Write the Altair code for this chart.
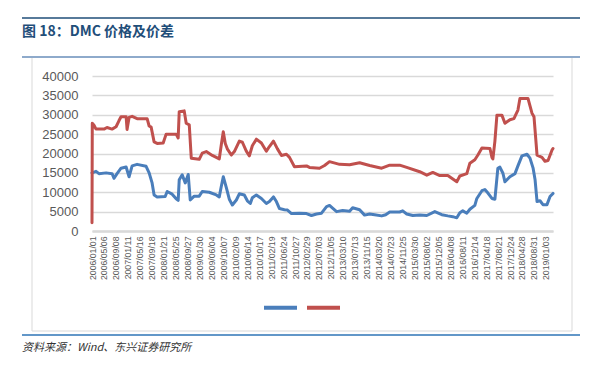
import altair as alt
import pandas as pd

# ---- data ----
price_dates = [
    "2006/01/01", "2006/01/04", "2006/01/22", "2006/02/12", "2006/05/07", "2006/06/07",
    "2006/07/30", "2006/09/10", "2006/10/11", "2006/11/01", "2006/12/24", "2007/01/03",
    "2007/01/24", "2007/02/25", "2007/04/18", "2007/08/01", "2007/08/22", "2007/09/12",
    "2007/10/13", "2007/11/14", "2008/01/16", "2008/02/16", "2008/05/31", "2008/06/21",
    "2008/07/02", "2008/08/23", "2008/09/13", "2008/10/15", "2008/11/05", "2009/01/27",
    "2009/02/28", "2009/04/11", "2009/06/13", "2009/08/25", "2009/09/15", "2009/10/06",
    "2009/10/27", "2009/11/17", "2009/12/29", "2010/01/30", "2010/03/23", "2010/04/24",
    "2010/06/04", "2010/07/06", "2010/08/06", "2010/09/17", "2010/11/09", "2010/12/31",
    "2011/02/01", "2011/03/15", "2011/04/26", "2011/06/07", "2011/07/29", "2011/08/30",
    "2011/10/21", "2012/02/24", "2012/03/26", "2012/07/09", "2012/08/31", "2012/10/22",
    "2013/02/04", "2013/05/20", "2013/09/02", "2013/12/16", "2014/04/21", "2014/07/14",
    "2014/10/26", "2015/01/08", "2015/05/24", "2015/08/06", "2015/10/08", "2015/12/20",
    "2016/03/13", "2016/06/15", "2016/07/17", "2016/09/28", "2016/10/30", "2016/12/21",
    "2017/01/22", "2017/03/05", "2017/05/28", "2017/06/18", "2017/06/28", "2017/07/19",
    "2017/08/09", "2017/09/30", "2017/11/01", "2017/12/23", "2018/02/03", "2018/03/17",
    "2018/04/07", "2018/06/30", "2018/08/11", "2018/09/01", "2018/10/03", "2018/11/24",
    "2018/12/25", "2019/01/26", "2019/03/09", "2019/03/19",
]
price_values = [
    2100, 27800, 27300, 26300, 26300, 26700,
    26300, 26900, 28500, 29500, 29500, 26200,
    29300, 29600, 29000, 29000, 27100, 26800,
    23000, 22600, 22700, 25000, 25000, 24000,
    30800, 31000, 27800, 27400, 18800, 18500,
    20100, 20500, 19500, 18600, 22200, 25600,
    22600, 21200, 19600, 20500, 23200, 22900,
    20600, 19400, 22000, 23700, 22700, 20600,
    21800, 23200, 21200, 19500, 19800, 19000,
    16600, 16800, 16400, 16200, 16900, 17900,
    17200, 17100, 17600, 16900, 16200, 17000,
    17000, 16400, 15300, 14400, 15100, 14300,
    14300, 12700, 14200, 14800, 17500, 18400,
    19600, 21400, 21300, 19000, 18600, 23200,
    29900, 29900, 27800, 28700, 29000, 31200,
    34200, 34200, 30400, 29500, 19600, 19000,
    18000, 18200, 20900, 21300,
]

spread_dates = [
    "2006/01/01", "2006/02/12", "2006/03/15", "2006/05/28", "2006/07/30", "2006/08/20",
    "2006/09/20", "2006/11/01", "2006/12/24", "2007/01/24", "2007/02/25", "2007/04/18",
    "2007/07/21", "2007/08/22", "2007/09/22", "2007/10/13", "2007/11/14", "2008/02/06",
    "2008/02/27", "2008/04/19", "2008/05/31", "2008/06/21", "2008/07/02", "2008/08/02",
    "2008/09/03", "2008/10/04", "2008/10/25", "2008/12/06", "2009/01/27", "2009/02/28",
    "2009/05/12", "2009/07/25", "2009/08/25", "2009/09/15", "2009/10/06", "2009/11/07",
    "2009/12/08", "2010/01/09", "2010/02/20", "2010/03/23", "2010/05/14", "2010/06/15",
    "2010/07/16", "2010/08/06", "2010/09/17", "2010/11/09", "2010/12/31", "2011/02/01",
    "2011/03/15", "2011/04/15", "2011/05/17", "2011/07/08", "2011/08/09", "2011/09/20",
    "2011/12/12", "2012/02/24", "2012/04/16", "2012/06/08", "2012/07/30", "2012/09/21",
    "2012/10/22", "2012/11/23", "2013/01/04", "2013/03/08", "2013/05/20", "2013/06/21",
    "2013/09/02", "2013/10/24", "2013/12/16", "2014/02/06", "2014/04/21", "2014/06/02",
    "2014/07/14", "2014/10/26", "2014/11/27", "2015/01/08", "2015/03/12", "2015/05/24",
    "2015/08/06", "2015/10/29", "2016/01/10", "2016/03/13", "2016/05/04", "2016/06/15",
    "2016/07/17", "2016/08/17", "2016/09/28", "2016/10/30", "2016/12/21", "2017/01/11",
    "2017/03/05", "2017/04/05", "2017/05/07", "2017/06/18", "2017/07/19", "2017/08/19",
    "2017/09/09", "2017/10/11", "2017/11/01", "2017/12/23", "2018/02/14", "2018/03/17",
    "2018/04/28", "2018/06/20", "2018/07/21", "2018/08/22", "2018/09/12", "2018/10/03",
    "2018/11/03", "2018/12/04", "2019/01/15", "2019/02/16", "2019/03/19",
]
spread_values = [
    15000, 15400, 14800, 15000, 14800, 13600,
    14800, 16200, 16500, 14000, 16800, 17200,
    16700, 15000, 12400, 9300, 8800, 8900,
    10200, 9500, 8300, 7900, 13200, 14500,
    12400, 14600, 8000, 9000, 9000, 10200,
    10000, 9300, 8800, 11500, 14000, 11200,
    8200, 6700, 8000, 9600, 9300, 7800,
    7100, 8600, 9300, 8400, 7100, 7600,
    8800, 7600, 5800, 5500, 5400, 4500,
    4600, 4500, 4000, 4400, 4600, 6300,
    6600, 5900, 5000, 5300, 5100, 6000,
    5500, 4100, 4400, 4200, 3900, 4200,
    4900, 4900, 5200, 4400, 4000, 4100,
    4000, 5000, 4200, 3900, 3700, 3400,
    4700, 5200, 4600, 5600, 6600, 8400,
    10400, 10700, 9800, 8400, 8200, 16200,
    16500, 14900, 12700, 14000, 14800, 16800,
    19400, 19800, 18800, 16300, 13300, 7600,
    7800, 6800, 6800, 8900, 9700,
]

tick_labels = [
    "2006/01/01", "2006/05/06", "2006/09/08", "2007/01/11", "2007/05/16", "2007/09/18",
    "2008/01/21", "2008/05/25", "2008/09/27", "2009/01/30", "2009/06/04", "2009/10/07",
    "2010/02/09", "2010/06/14", "2010/10/17", "2011/02/19", "2011/06/24", "2011/10/27",
    "2012/02/29", "2012/07/03", "2012/11/05", "2013/03/10", "2013/07/13", "2013/11/15",
    "2014/03/20", "2014/07/23", "2014/11/25", "2015/03/30", "2015/08/02", "2015/12/05",
    "2016/04/08", "2016/08/11", "2016/12/14", "2017/04/18", "2017/08/21", "2017/12/24",
    "2018/04/28", "2018/08/31", "2019/01/03",
]
y_ticks = [0, 5000, 10000, 15000, 20000, 25000, 30000, 35000, 40000]

series_names = ["价差", "DMC价格"]
series_colors = ["#4A7EBB", "#C0504D"]

title_text = "图 18：DMC 价格及价差"
source_text = "资料来源：Wind、东兴证券研究所"


def dt(s):
    y, m, d = (int(p) for p in s.split("/"))
    return alt.DateTime(year=y, month=m, date=d)


df = pd.concat([
    pd.DataFrame({"date": spread_dates, "value": spread_values, "series": series_names[0]}),
    pd.DataFrame({"date": price_dates, "value": price_values, "series": series_names[1]}),
])

W, H = 461, 155
FONT = "Liberation Sans"

lines = alt.Chart(df).mark_line(strokeWidth=3, strokeCap="round", strokeJoin="round").encode(
    x=alt.X("date:T",
            scale=alt.Scale(domain=[dt("2006/01/01"), dt("2019/03/19")]),
            axis=alt.Axis(values=[dt(t) for t in tick_labels], format="%Y/%m/%d",
                          labelAngle=-90, title=None, ticks=False, grid=False,
                          labelFontSize=8.7, labelColor="#595959", labelFont=FONT,
                          labelPadding=5, labelOverlap=False, labelFlush=False,
                          domainColor="#D9D9D9", domainWidth=2.5)),
    y=alt.Y("value:Q",
            scale=alt.Scale(domain=[0, 40000], nice=False),
            axis=alt.Axis(values=y_ticks, title=None, ticks=False, domain=False,
                          labelFontSize=13, labelColor="#595959", labelFont=FONT,
                          labelPadding=14, gridColor="#D9D9D9", gridWidth=1.5,
                          format="d")),
    color=alt.Color("series:N",
                    scale=alt.Scale(domain=series_names, range=series_colors),
                    legend=alt.Legend(orient="none", legendX=170, legendY=213,
                                      direction="horizontal", title=None,
                                      symbolType="stroke", symbolSize=1089,
                                      symbolStrokeWidth=4, labelExpr="''",
                                      labelOffset=0, columnPadding=-6)),
    detail="series:N",
)

deco = pd.DataFrame({"k": [0]})
# decorations (frame, header/footer rules, texts) positioned in pixels relative to the plot
frame = alt.Chart(deco).mark_rect(fill=None, stroke="#D9D9D9", strokeWidth=1).encode(
    x=alt.value(-60), x2=alt.value(480), y=alt.value(-19), y2=alt.value(255))
rule_top = alt.Chart(deco).mark_rule(color="#1F4E79", strokeWidth=1.5).encode(
    x=alt.value(-70), x2=alt.value(488), y=alt.value(-58))
rule_mid = alt.Chart(deco).mark_rule(color="#8EAACB", strokeWidth=2).encode(
    x=alt.value(-70), x2=alt.value(488), y=alt.value(-19))
rule_bot = alt.Chart(deco).mark_rule(color="#2E75B6", strokeWidth=1.5).encode(
    x=alt.value(-70), x2=alt.value(488), y=alt.value(259))
title = alt.Chart(deco).mark_text(align="left", baseline="middle", fontSize=14,
                                  fontWeight="bold", color="#1F4E79",
                                  font="Noto Sans CJK SC").encode(
    x=alt.value(-70), y=alt.value(-44), text=alt.value(title_text))
source = alt.Chart(deco).mark_text(align="left", baseline="middle", fontSize=11,
                                   fontStyle="italic", color="#333333",
                                   font="Noto Sans CJK SC").encode(
    x=alt.value(-70), y=alt.value(272), text=alt.value(source_text))

chart = alt.layer(frame, rule_top, rule_mid, rule_bot, title, source, lines).properties(
    width=W, height=H,
    autosize=alt.AutoSizeParams(type="none"),
    padding={"left": 84, "top": 68, "right": 35, "bottom": 127},
    background="white",
).configure_view(stroke=None)

chart.save("out.html", embed_options={"renderer": "svg", "actions": False})
